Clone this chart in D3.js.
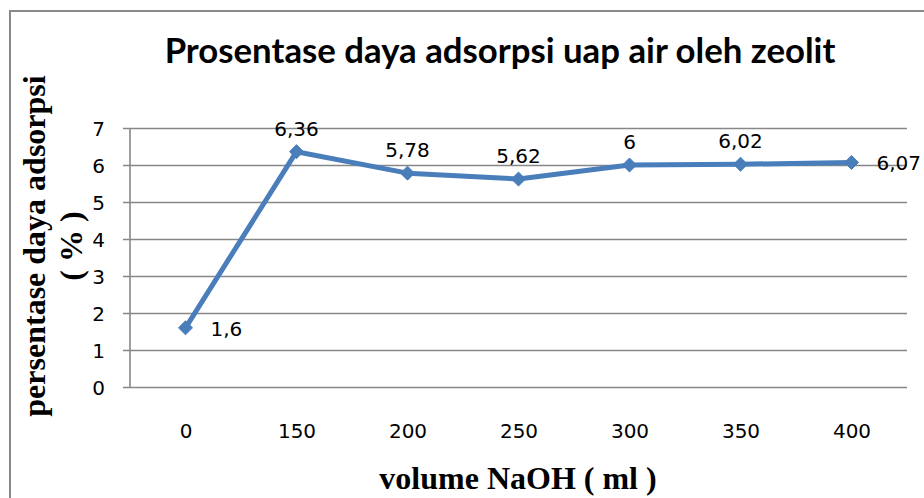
<!DOCTYPE html>
<html><head><meta charset="utf-8">
<script src="https://cdn.jsdelivr.net/npm/d3@7"></script>
<style>
html,body{margin:0;padding:0;background:#fff;}
svg{display:block;}
</style></head>
<body>
<script>
const categories = ["0","150","200","250","300","350","400"];
const values = [1.6, 6.36, 5.78, 5.62, 6, 6.02, 6.07];
const valueLabels = ["1,6","6,36","5,78","5,62","6","6,02","6,07"];
const labelSide = ["right","above","above","above","above","above","right"];
const yTicks = [0,1,2,3,4,5,6,7];
const titleText = "Prosentase daya adsorpsi uap air oleh zeolit";
const xTitle = "volume NaOH ( ml )";
const yTitle1 = "persentase daya adsorpsi";
const yTitle2 = "( % )";

const W = 924, H = 498;
const svg = d3.select("body").append("svg").attr("width", W).attr("height", H);

// outer border
svg.append("rect").attr("x",10).attr("y",11).attr("width",W).attr("height",H)
  .attr("fill","none").attr("stroke","#898989").attr("stroke-width",2);

const plot = {left:130, right:907, top:128, bottom:387};
const x = d3.scalePoint().domain(categories).range([plot.left, plot.right]).padding(0.5);
const y = d3.scaleLinear().domain([0,7]).range([plot.bottom, plot.top]);

const sans = "Lato, 'Open Sans', sans-serif";
const num = "'DejaVu Sans', sans-serif";
const serif = "'Liberation Serif', 'Times New Roman', serif";
const grid = "#878787";

// gridlines + y axis
const yAxis = d3.axisLeft(y).tickValues(yTicks).tickSize(plot.right - plot.left + 7).tickFormat(d=>d);
const gy = svg.append("g").attr("transform",`translate(${plot.right},0)`).call(yAxis);
gy.select(".domain").remove();
gy.selectAll(".tick line").attr("stroke",grid).attr("stroke-width",1.6).attr("x2", -(plot.right-plot.left+7));
gy.selectAll(".tick text").attr("x", -(plot.right-plot.left+25)).attr("dy","0.36em")
  .attr("font-family",num).attr("font-size",20).attr("fill","#000");
// vertical axis line
svg.append("line").attr("x1",plot.left).attr("x2",plot.left).attr("y1",plot.top).attr("y2",plot.bottom)
  .attr("stroke",grid).attr("stroke-width",1.6);

// x axis labels
const xAxis = d3.axisBottom(x).tickSize(0).tickPadding(0);
const gx = svg.append("g").attr("transform",`translate(0,${plot.bottom})`).call(xAxis);
gx.select(".domain").remove();
gx.selectAll(".tick text").attr("y",51).attr("dy",0).attr("font-family",num).attr("font-size",20).attr("fill","#000");

// line
const color = "#4a7ebb";
const data = categories.map((c,i)=>({c, v:values[i], label:valueLabels[i], side:labelSide[i]}));
svg.append("path").datum(data)
  .attr("d", d3.line().x(d=>x(d.c)).y(d=>y(d.v)))
  .attr("fill","none").attr("stroke",color).attr("stroke-width",5).attr("stroke-linejoin","round");
svg.selectAll(".mk").data(data).enter().append("path")
  .attr("class","mk")
  .attr("d", d3.symbol().type(d3.symbolDiamond2).size(125))
  .attr("transform", d=>`translate(${x(d.c)},${y(d.v)})`)
  .attr("fill",color).attr("stroke",color).attr("stroke-width",1);

// data labels
svg.selectAll(".dl").data(data).enter().append("text")
  .attr("x", d=> d.side==="right" ? x(d.c)+25 : x(d.c))
  .attr("y", d=> d.side==="right" ? y(d.v)+8 : y(d.v)-16)
  .attr("text-anchor", d=> d.side==="right" ? "start" : "middle")
  .attr("font-family",num).attr("font-size",20).attr("fill","#000")
  .text(d=>d.label);

// title
const t = svg.append("text").attr("x",500).attr("y",63).attr("text-anchor","middle")
  .attr("font-family",sans).attr("font-weight","bold").attr("font-size",30).attr("fill","#000")
  .text(titleText);
const tw = t.node().getComputedTextLength();
t.attr("font-size", 30*671/tw);

// x title
svg.append("text").attr("x",518).attr("y",489).attr("text-anchor","middle")
  .attr("font-family",serif).attr("font-weight","bold").attr("font-size",32).attr("fill","#000")
  .text(xTitle);

// y title
const yt = svg.append("text").attr("transform","translate(0,246) rotate(-90)")
  .attr("text-anchor","middle").attr("font-family",serif).attr("font-weight","bold")
  .attr("font-size",32).attr("fill","#000");
yt.append("tspan").attr("x",0).attr("y",45).text(yTitle1);
yt.append("tspan").attr("x",0).attr("y",82).text(yTitle2);
</script>
</body></html>
